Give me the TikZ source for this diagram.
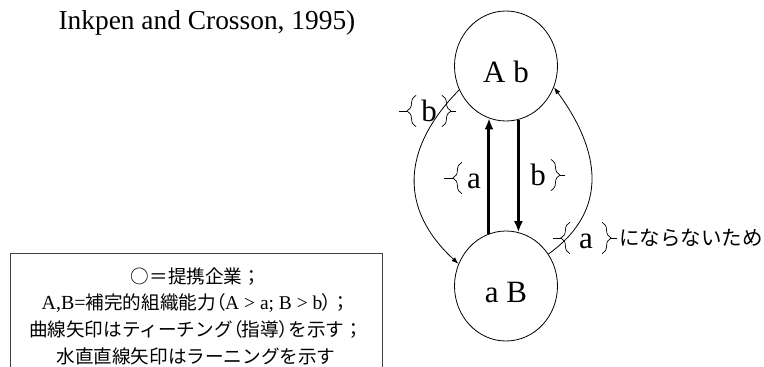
\documentclass[tikz,border=0pt]{standalone}
\usepackage{fontspec}
\setmainfont{Liberation Serif}
\newfontfamily\jpfont{Noto Sans CJK JP}
\newfontfamily\jppfont[RawFeature=+palt]{Noto Sans CJK JP}
\usetikzlibrary{arrows.meta}
\usetikzlibrary{shapes.geometric}
\usetikzlibrary{decorations.pathreplacing, positioning}
\newcommand\firmfont{\fontsize{31}{34}\selectfont}
\begin{document}
\begin{tikzpicture}[x=1pt,y=-1pt,
  firm/.style={draw, ellipse, line width=0.8pt, minimum width=103pt, minimum height=110pt,
    inner sep=0pt, font=\firmfont, text height=32pt, text depth=0pt},
  setlbl/.style={font=\firmfont, inner xsep=5pt, inner ysep=0pt, minimum height=31pt,
    text height=21pt, text depth=0pt},
  brc/.style={decorate, decoration={brace, amplitude=9pt}, line width=0.7pt},
  tick/.style={line width=0.7pt},
  learn/.style={line width=3pt, -{Latex[length=11pt,width=9pt]}},
  teach/.style={line width=0.8pt, -{Latex[length=7pt,width=5pt]}},
]
\useasboundingbox (0,0) rectangle (764,367);
\clip (0,0) rectangle (764,367);

\node[anchor=base west, font=\fontsize{27.4}{30}\selectfont] (src) at (55,29) {Inkpen and Crosson, 1995)};

\node[firm] (Ab) at (506,66) {A b};
\node[firm] (aB) at (506,286) {a B};

% learning
\draw[learn] (aB.108) -- (Ab.252);
\draw[learn] (Ab.283) -- (aB.77);

% teaching
\draw[teach] (Ab.207) .. controls (400,150) and (400,210) .. (aB.155);
\draw[teach] (aB.37) .. controls (610,210) and (600,150) .. (Ab.336);

\node[setlbl] (tb) at (429,111) {b};
\draw[brc] (tb.south west) -- (tb.north west);
\draw[brc] (tb.north east) -- (tb.south east);
\draw[tick] (tb.west) ++(-9,0) -- ++(-8,0);
\draw[tick] (tb.east) ++(9,0) -- ++(5,0);

\node[setlbl] (la) at (474,178) {a};
\draw[brc] (la.south west) -- (la.north west);
\draw[tick] (la.west) ++(-9,0) -- ++(-9,0);

\node[setlbl] (lb) at (538,175) {b};
\draw[brc] (lb.north east) -- (lb.south east);
\draw[tick] (lb.east) ++(9,0) -- ++(5,0);

\node[setlbl, inner xsep=9pt] (ba) at (586,238) {a};
\draw[brc] (ba.south west) -- (ba.north west);
\draw[brc] (ba.north east) -- (ba.south east);
\draw[tick] (ba.west) ++(-9,0) -- ++(-8,0);
\draw[tick] (ba.east) ++(9,0) -- ++(6,0);
\node[right=17pt of ba, inner sep=0pt, font=\jpfont\fontsize{20.5}{22}\selectfont] (note) {にならないため};

% legend
\draw[black!75, line width=0.8pt] (10,253) rectangle (382,380);
\node[align=center, font=\fontsize{18.6}{26.7}\selectfont] (key) at (196,316)
  {{\jpfont ○＝提携企業；}\\
   {\fontsize{20}{26.7}\selectfont A,B=}{\jpfont 補完的組織能力}{\jppfont （}{\fontsize{19.5}{26.7}\selectfont A > a; B > b}{\jppfont ）}{\jpfont ；}\\
   {\jpfont 曲線矢印はティーチング}{\jppfont （}{\jpfont 指導}{\jppfont ）}{\jpfont を示す；}\\
   {\jpfont 水直直線矢印はラーニングを示す}};
\end{tikzpicture}
\end{document}
